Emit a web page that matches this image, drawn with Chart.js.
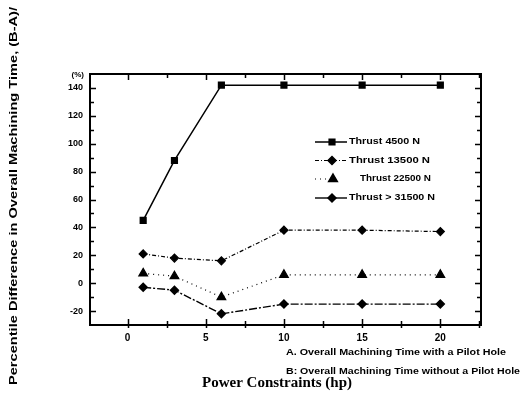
<!DOCTYPE html>
<html>
<head>
<meta charset="utf-8">
<script src="https://cdn.jsdelivr.net/npm/chart.js@4/dist/chart.umd.min.js"></script>
<style>
html,body{margin:0;padding:0;background:#fff;}
#wrap{width:524px;height:398px;position:relative;}
</style>
</head>
<body>
<div id="wrap"><canvas id="c" width="524" height="398"></canvas></div>
<script>
// ---- data ----
const powerHp = [1, 3, 6, 10, 15, 20];
const thrust4500 = [45, 88, 142, 142, 142, 142];
const thrust13500 = [21, 18, 16, 38, 38, 37];
const thrust22500 = [7, 5, -10, 6, 6, 6];
const thrust31500 = [-3, -5, -22, -15, -15, -15];
const seriesLabels = ['Thrust 4500 N', 'Thrust 13500 N', 'Thrust 22500 N', 'Thrust > 31500 N'];
const xTickValues = [0, 5, 10, 15, 20];
const yTickValues = [-20, 0, 20, 40, 60, 80, 100, 120, 140];
const yTitle = 'Percentile Difference in Overall Machining Time, (B-A)/';
const xTitle = 'Power Constraints (hp)';
const noteA = 'A. Overall Machining Time with a Pilot Hole';
const noteB = 'B: Overall Machining Time without a Pilot Hole';

const seriesValues = [thrust4500, thrust13500, thrust22500, thrust31500];
const styles = [
  {pointStyle: 'rect', radius: 4, dash: [], width: 1.5},
  {pointStyle: 'rectRot', radius: 4, dash: [4, 2, 1, 2], width: 1.2},
  {pointStyle: 'triangle', radius: 5, dash: [1, 4], width: 1.2},
  {pointStyle: 'rectRot', radius: 4, dash: [8, 2, 2, 2], width: 1.4}
];

const datasets = seriesValues.map((vals, i) => ({
  label: seriesLabels[i],
  data: powerHp.map((x, j) => ({x: x, y: vals[j]})),
  borderColor: '#000',
  backgroundColor: '#000',
  borderWidth: styles[i].width,
  borderDash: styles[i].dash,
  pointStyle: styles[i].pointStyle,
  pointRadius: styles[i].radius,
  pointBackgroundColor: '#000',
  pointBorderColor: '#000',
  tension: 0
}));

function fitText(ctx, text, x, y, font, targetW, align, rot) {
  ctx.save();
  ctx.font = font;
  const w = ctx.measureText(text).width;
  const s = targetW / w;
  ctx.translate(x, y);
  if (rot) ctx.rotate(rot);
  ctx.scale(s, 1);
  ctx.textAlign = align || 'left';
  ctx.textBaseline = 'middle';
  ctx.fillStyle = '#000';
  ctx.fillText(text, 0, 0);
  ctx.restore();
}

const framePlugin = {
  id: 'frame',
  afterDraw(chart) {
    const ctx = chart.ctx;
    const a = chart.chartArea;
    const xs = chart.scales.x, ys = chart.scales.y;
    ctx.save();
    ctx.strokeStyle = '#000';
    ctx.lineWidth = 2;
    ctx.setLineDash([]);
    ctx.strokeRect(a.left, a.top, a.right - a.left, a.bottom - a.top);
    ctx.lineWidth = 1.5;
    // x ticks (bottom and top)
    for (let v = -2.5; v <= 22.5; v += 2.5) {
      const px = Math.round(xs.getPixelForValue(v)) + 0.5;
      if (px <= a.left + 1 || px >= a.right - 1) continue;
      const major = Math.abs(v % 5) < 1e-6;
      const L = major ? 6 : 4;
      ctx.beginPath();
      ctx.moveTo(px, a.bottom + 3); ctx.lineTo(px, a.bottom - L);
      ctx.moveTo(px, a.top - 1); ctx.lineTo(px, a.top + L);
      ctx.stroke();
    }
    // y ticks (left and right)
    for (let v = -30; v <= 150; v += 10) {
      const py = Math.round(ys.getPixelForValue(v)) + 0.5;
      if (py <= a.top + 1 || py >= a.bottom - 1) continue;
      const major = Math.abs(v % 20) < 1e-6;
      const L = major ? 6 : 4;
      ctx.beginPath();
      ctx.moveTo(a.left - 1, py); ctx.lineTo(a.left + L, py);
      ctx.moveTo(a.right + 1, py); ctx.lineTo(a.right - L, py);
      ctx.stroke();
    }
    // (%) label
    ctx.fillStyle = '#000';
    ctx.font = 'bold 8px Arial';
    ctx.textAlign = 'right';
    ctx.textBaseline = 'middle';
    ctx.fillText('(%)', 84, a.top + 1);
    // legend
    const lx = 315, rowsY = [142, 160.5, 179, 198];
    const textX = [349, 349, 360, 349];
    const textW = [71, 81, 71, 86];
    chart.data.datasets.forEach((ds, i) => {
      const y = rowsY[i];
      ctx.save();
      ctx.strokeStyle = '#000';
      ctx.lineWidth = ds.borderWidth;
      ctx.setLineDash(i === 3 ? [] : ds.borderDash);
      ctx.beginPath();
      if (i === 2) { ctx.moveTo(lx, y); ctx.lineTo(lx + 14, y); }
      else { ctx.moveTo(lx, y); ctx.lineTo(lx + 32, y); }
      ctx.stroke();
      ctx.restore();
      ctx.fillStyle = '#000';
      ctx.strokeStyle = '#000';
      Chart.helpers.drawPoint(ctx, {pointStyle: ds.pointStyle, radius: ds.pointRadius, borderWidth: 1, rotation: 0}, lx + (i === 2 ? 18 : 17), y);
      fitText(ctx, ds.label, textX[i], y, 'bold 9px Arial', textW[i], 'left');
    });
    // titles & notes
    fitText(ctx, yTitle, 14, 196, 'bold 11px Arial', 378, 'center', -Math.PI / 2);
    fitText(ctx, xTitle, 202, 383, 'bold 14px "Liberation Serif", "DejaVu Serif", serif', 150, 'left');
    fitText(ctx, noteA, 286, 353, 'bold 9px Arial', 220, 'left');
    fitText(ctx, noteB, 286, 372, 'bold 9px Arial', 234, 'left');
    ctx.restore();
  }
};

new Chart(document.getElementById('c'), {
  type: 'line',
  data: {datasets: datasets},
  options: {
    responsive: false,
    animation: false,
    events: [],
    layout: {padding: {top: 74, right: 43, left: 0, bottom: 0}},
    plugins: {legend: {display: false}, tooltip: {enabled: false}, title: {display: false}},
    scales: {
      x: {
        type: 'linear', min: -2.4, max: 22.6,
        afterBuildTicks(s) { s.ticks = xTickValues.map(v => ({value: v})); },
        afterFit(s) { s.height = 73; },
        grid: {display: false, drawTicks: false},
        border: {display: false},
        ticks: {color: '#000', font: {family: 'Arial', weight: 'bold', size: 10}, padding: 7, maxRotation: 0, autoSkip: false}
      },
      y: {
        type: 'linear', min: -30, max: 150,
        afterBuildTicks(s) { s.ticks = yTickValues.map(v => ({value: v})); },
        afterFit(s) { s.width = 90; },
        grid: {display: false, drawTicks: false},
        border: {display: false},
        ticks: {color: '#000', font: {family: 'Arial', weight: 'bold', size: 9}, padding: 7, autoSkip: false}
      }
    }
  },
  plugins: [framePlugin]
});
</script>
</body>
</html>
